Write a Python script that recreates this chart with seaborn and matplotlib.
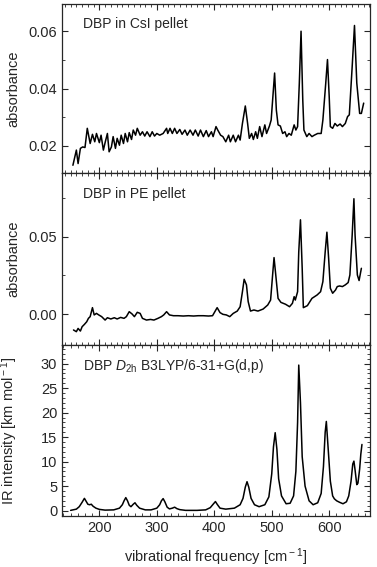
"""
DBP IR spectra: CsI pellet, PE pellet, calculated D2h spectrum
"""

import numpy as np
import pandas as pd
import matplotlib
matplotlib.use("Agg")
import matplotlib.pyplot as plt
from matplotlib.ticker import MultipleLocator, FormatStrFormatter
import seaborn as sns

# --- 数据 ---
csi_freq = [154, 160, 163, 167, 171, 175, 179, 184, 188, 192, 195, 200, 203, 207, 210,
            214, 217, 221, 224, 228, 231, 235, 238, 242, 245, 249, 252, 256, 259, 263,
            266, 271, 275, 279, 283, 288, 292, 296, 300, 305, 311, 317, 319, 323, 327,
            331, 335, 340, 344, 349, 353, 358, 363, 367, 372, 376, 381, 386, 390, 395,
            398, 403, 406, 411, 415, 420, 425, 428, 433, 437, 442, 445, 449, 454, 458,
            461, 465, 468, 472, 475, 479, 483, 488, 491, 496, 499, 505, 508, 511, 515,
            519, 523, 526, 530, 534, 539, 542, 545, 548, 551, 554, 556, 561, 565, 570,
            574, 580, 586, 589, 594, 597, 600, 602, 606, 610, 614, 619, 623, 628, 632,
            635, 640, 644, 648, 653, 656, 660]
csi_abs = [0.0132, 0.0185, 0.0138, 0.0191, 0.0196, 0.0194, 0.0261, 0.0208, 0.0240, 0.0214,
           0.0243, 0.0211, 0.0237, 0.0185, 0.0211, 0.0243, 0.0179, 0.0196, 0.0232, 0.0191,
           0.0226, 0.0202, 0.0237, 0.0208, 0.0243, 0.0214, 0.0246, 0.0222, 0.0255, 0.0237,
           0.0261, 0.0237, 0.0249, 0.0234, 0.0249, 0.0232, 0.0249, 0.0234, 0.0243, 0.0237,
           0.0243, 0.0261, 0.0243, 0.0261, 0.0243, 0.0261, 0.0243, 0.0257, 0.0240, 0.0255,
           0.0237, 0.0255, 0.0237, 0.0255, 0.0234, 0.0255, 0.0232, 0.0253, 0.0232, 0.0249,
           0.0232, 0.0267, 0.0255, 0.0237, 0.0232, 0.0214, 0.0237, 0.0214, 0.0237, 0.0214,
           0.0237, 0.0220, 0.0278, 0.0339, 0.0278, 0.0226, 0.0243, 0.0222, 0.0249, 0.0226,
           0.0267, 0.0232, 0.0273, 0.0243, 0.0269, 0.0290, 0.0454, 0.0325, 0.0273, 0.0269,
           0.0243, 0.0249, 0.0232, 0.0243, 0.0237, 0.0273, 0.0255, 0.0267, 0.0419, 0.0600,
           0.0360, 0.0255, 0.0232, 0.0243, 0.0232, 0.0237, 0.0243, 0.0243, 0.0290, 0.0419,
           0.0501, 0.0372, 0.0267, 0.0261, 0.0278, 0.0269, 0.0276, 0.0267, 0.0278, 0.0302,
           0.0308, 0.0477, 0.0620, 0.0419, 0.0313, 0.0313, 0.0349]

pe_freq = [155, 160, 163, 167, 170, 174, 178, 181, 184, 188, 191, 195, 199, 204, 210,
           214, 220, 226, 231, 237, 243, 247, 252, 257, 261, 266, 271, 275, 282, 289,
           295, 302, 308, 312, 317, 322, 329, 337, 346, 355, 364, 372, 381, 390, 397,
           401, 405, 410, 415, 421, 427, 433, 440, 445, 449, 452, 456, 459, 463, 469,
           476, 485, 493, 498, 502, 504, 507, 511, 516, 524, 531, 536, 539, 541, 545,
           547, 550, 553, 555, 562, 570, 579, 585, 589, 593, 596, 599, 602, 606, 611,
           614, 618, 623, 628, 633, 636, 640, 643, 645, 649, 652, 656]
pe_abs = [-0.0103, -0.0114, -0.0093, -0.0110, -0.0082, -0.0067, -0.0050, -0.0028, -0.0017,
          0.0041, -0.0006, 0.0004, -0.0006, -0.0017, -0.0039, -0.0024, -0.0032, -0.0024,
          -0.0032, -0.0022, -0.0028, -0.0017, 0.0015, 0.0000, -0.0017, 0.0011, 0.0004,
          -0.0028, -0.0039, -0.0035, -0.0039, -0.0028, -0.0017, -0.0006, 0.0015, -0.0006,
          -0.0011, -0.0011, -0.0013, -0.0011, -0.0013, -0.0011, -0.0011, -0.0013, -0.0011,
          0.0015, 0.0041, 0.0009, -0.0002, -0.0006, -0.0017, 0.0004, 0.0019, 0.0047,
          0.0144, 0.0224, 0.0188, 0.0080, 0.0019, 0.0026, 0.0019, 0.0032, 0.0058, 0.0090,
          0.0274, 0.0364, 0.0252, 0.0101, 0.0075, 0.0063, 0.0047, 0.0069, 0.0112, 0.0090,
          0.0144, 0.0400, 0.0608, 0.0295, 0.0041, 0.0054, 0.0101, 0.0123, 0.0144, 0.0209,
          0.0400, 0.0528, 0.0360, 0.0166, 0.0134, 0.0155, 0.0177, 0.0181, 0.0177, 0.0188,
          0.0203, 0.0252, 0.0510, 0.0744, 0.0510, 0.0252, 0.0216, 0.0295]

calc_freq = [150, 160, 165, 170, 174, 177, 180, 183, 186, 189, 194, 200, 210, 225, 235,
             240, 243, 246, 249, 252, 255, 259, 262, 265, 270, 280, 290, 300, 305, 308,
             311, 314, 318, 322, 327, 331, 335, 340, 350, 370, 385, 393, 398, 402, 405,
             410, 420, 435, 445, 450, 454, 457, 460, 464, 470, 478, 488, 495, 500, 503,
             506, 509, 512, 517, 525, 532, 538, 542, 545, 547, 550, 553, 558, 565, 572,
             580, 586, 590, 593, 595, 598, 602, 606, 609, 613, 618, 624, 630, 634, 638,
             641, 643, 645, 648, 650, 653, 655, 657]
calc_int = [0.05, 0.3, 0.8, 1.7, 2.5, 1.9, 1.3, 1.2, 1.3, 0.9, 0.5, 0.25, 0.1, 0.15, 0.5,
            1.2, 2.0, 2.65, 2.0, 1.1, 0.8, 1.3, 1.6, 1.1, 0.5, 0.15, 0.15, 0.5, 1.2, 2.0,
            2.45, 1.8, 0.7, 0.35, 0.5, 0.7, 0.4, 0.2, 0.05, 0.05, 0.15, 0.6, 1.3, 1.85, 1.3,
            0.5, 0.3, 0.5, 1.2, 2.5, 4.8, 5.9, 4.8, 2.5, 1.2, 0.8, 1.2, 2.8, 7.5, 13.0,
            15.9, 12.5, 6.5, 3.0, 1.4, 1.5, 3.0, 8.0, 18.0, 29.7, 22.0, 11.0, 5.0, 2.0, 1.2,
            1.6, 3.5, 9.0, 16.0, 18.2, 13.0, 6.0, 3.0, 2.4, 2.0, 1.7, 1.4, 1.8, 3.0, 6.0,
            9.5, 10.1, 8.3, 5.3, 5.6, 8.5, 11.5, 13.5]

panel_labels = ["DBP in CsI pellet", "DBP in PE pellet",
                r"DBP $D_{\rm 2h}$ B3LYP/6-31+G(d,p)"]

sns.set_style("ticks")
plt.rcParams["font.family"] = ["Liberation Sans", "DejaVu Sans"]
plt.rcParams["mathtext.fontset"] = "custom"
plt.rcParams["mathtext.rm"] = "Liberation Sans"
plt.rcParams["mathtext.it"] = "Liberation Sans:italic"

fig = plt.figure(figsize=(3.77, 5.67), dpi=100)
left, width = 62 / 377, 308 / 377
bounds = [(4, 173), (173, 345), (345, 516)]
axes = []
for top, bot in bounds:
    ax = fig.add_axes([left, 1 - bot / 567, width, (bot - top) / 567])
    axes.append(ax)

series = [(csi_freq, csi_abs), (pe_freq, pe_abs), (calc_freq, calc_int)]
for ax, (fx, fy), lab in zip(axes, series, panel_labels):
    df = pd.DataFrame({"freq": fx, "val": fy})
    sns.lineplot(data=df, x="freq", y="val", ax=ax, color="black",
                 linewidth=1.1, estimator=None)
    ax.set_xlim(135, 671)
    ax.text(0.068, 0.88, lab, transform=ax.transAxes, fontsize=10,
            va="center", ha="left")
    ax.tick_params(which="both", direction="in", top=True, right=True,
                   labelsize=10.5)
    ax.tick_params(which="major", length=4.5, width=0.8)
    ax.tick_params(which="minor", length=2.5, width=0.6)
    ax.xaxis.set_major_locator(MultipleLocator(100))
    for s in ax.spines.values():
        s.set_linewidth(0.9)
    ax.set_xlabel("")

ax1, ax2, ax3 = axes
ax1.set_ylim(0.0105, 0.0695)
ax1.yaxis.set_major_locator(MultipleLocator(0.02))
ax1.yaxis.set_minor_locator(MultipleLocator(0.01))
ax1.yaxis.set_major_formatter(FormatStrFormatter("%.2f"))
ax1.xaxis.set_minor_locator(MultipleLocator(10))
ax1.set_xticklabels([])
ax1.set_ylabel("absorbance", fontsize=10.5)

ax2.set_ylim(-0.020, 0.091)
ax2.yaxis.set_major_locator(MultipleLocator(0.05))
ax2.yaxis.set_minor_locator(MultipleLocator(0.025))
ax2.yaxis.set_major_formatter(FormatStrFormatter("%.2f"))
ax2.xaxis.set_minor_locator(MultipleLocator(10))
ax2.set_xticklabels([])
ax2.set_ylabel("absorbance", fontsize=10.5)

ax3.set_ylim(-1.1, 33.8)
ax3.yaxis.set_major_locator(MultipleLocator(5))
ax3.yaxis.set_minor_locator(MultipleLocator(1))
ax3.xaxis.set_minor_locator(MultipleLocator(12.5))
ax3.set_ylabel(r"IR intensity [km mol$^{\rm -1}$]", fontsize=10.5)
ax3.set_xlabel(r"vibrational frequency [cm$^{\rm -1}$]", fontsize=10.5,
               labelpad=8)

for ax in axes:
    ax.yaxis.set_label_coords(-0.135, 0.5)

fig.savefig("out.png", dpi=100)
plt.close(fig)
